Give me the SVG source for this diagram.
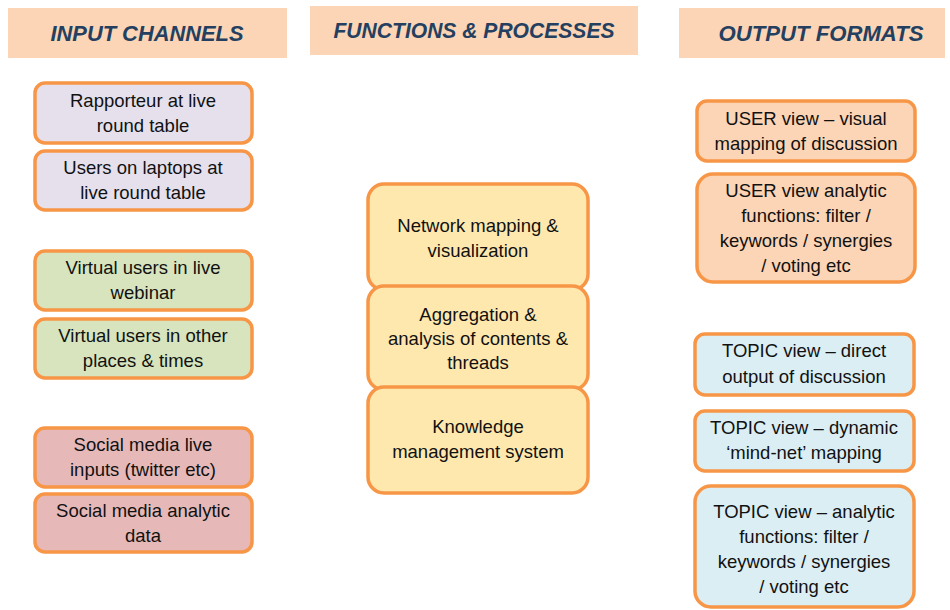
<svg xmlns="http://www.w3.org/2000/svg" width="950" height="610" viewBox="0 0 950 610">
  <style>
    .hdr { fill: #FBD5B5; }
    .hdr-t { font-family: "Liberation Sans", Arial, sans-serif; font-size: 22px; font-weight: bold; font-style: italic; fill: #243F60; text-anchor: middle; }
    .box { stroke: #F79646; stroke-width: 3.5; }
    .t { font-family: "Liberation Sans", Arial, sans-serif; font-size: 18.5px; fill: #111; text-anchor: middle; }
    .lav { fill: #E5E0EC; }
    .grn { fill: #D7E4BD; }
    .red { fill: #E6B9B8; }
    .yel { fill: #FFE8AE; }
    .pch { fill: #FBD5B5; }
    .blu { fill: #DBEEF4; }
  </style>

  <!-- column headers -->
  <g id="hdr-input">
    <rect class="hdr" x="8" y="8" width="279" height="50"/>
    <text class="hdr-t" x="147" y="41" textLength="193" lengthAdjust="spacingAndGlyphs">INPUT CHANNELS</text>
  </g>
  <g id="hdr-functions">
    <rect class="hdr" x="310" y="6" width="328" height="49"/>
    <text class="hdr-t" x="474" y="38" textLength="281" lengthAdjust="spacingAndGlyphs">FUNCTIONS &amp; PROCESSES</text>
  </g>
  <g id="hdr-output">
    <rect class="hdr" x="679" y="8" width="266" height="50"/>
    <text class="hdr-t" x="821" y="41" textLength="205" lengthAdjust="spacingAndGlyphs">OUTPUT FORMATS</text>
  </g>

  <!-- input channels -->
  <g id="in-rapporteur">
    <rect class="box lav" x="35" y="83" width="217" height="60" rx="10"/>
    <text class="t" x="143" y="107">Rapporteur at live</text>
    <text class="t" x="143" y="132">round table</text>
  </g>
  <g id="in-laptops">
    <rect class="box lav" x="35" y="151" width="217" height="59" rx="10"/>
    <text class="t" x="143" y="174">Users on laptops at</text>
    <text class="t" x="143" y="199">live round table</text>
  </g>
  <g id="in-webinar">
    <rect class="box grn" x="35" y="251" width="217" height="59" rx="10"/>
    <text class="t" x="143" y="274">Virtual users in live</text>
    <text class="t" x="143" y="299">webinar</text>
  </g>
  <g id="in-other">
    <rect class="box grn" x="35" y="319" width="217" height="59" rx="10"/>
    <text class="t" x="143" y="342">Virtual users in other</text>
    <text class="t" x="143" y="367">places &amp; times</text>
  </g>
  <g id="in-social-live">
    <rect class="box red" x="35" y="428" width="217" height="59" rx="10"/>
    <text class="t" x="143" y="451">Social media live</text>
    <text class="t" x="143" y="476">inputs (twitter etc)</text>
  </g>
  <g id="in-social-data">
    <rect class="box red" x="35" y="494" width="217" height="58" rx="10"/>
    <text class="t" x="143" y="517">Social media analytic</text>
    <text class="t" x="143" y="542">data</text>
  </g>

  <!-- functions & processes -->
  <g id="fn-network">
    <rect class="box yel" x="368" y="184" width="220" height="106" rx="16"/>
    <text class="t" x="478" y="232">Network mapping &amp;</text>
    <text class="t" x="478" y="257">visualization</text>
  </g>
  <g id="fn-aggregation">
    <rect class="box yel" x="368" y="286" width="220" height="104" rx="16"/>
    <text class="t" x="478" y="321">Aggregation &amp;</text>
    <text class="t" x="478" y="345">analysis of contents &amp;</text>
    <text class="t" x="478" y="369">threads</text>
  </g>
  <g id="fn-knowledge">
    <rect class="box yel" x="368" y="387" width="220" height="106" rx="16"/>
    <text class="t" x="478" y="433">Knowledge</text>
    <text class="t" x="478" y="458">management system</text>
  </g>

  <!-- output formats -->
  <g id="out-user-visual">
    <rect class="box pch" x="697" y="101" width="218" height="60" rx="10"/>
    <text class="t" x="806" y="125">USER view – visual</text>
    <text class="t" x="806" y="150">mapping of discussion</text>
  </g>
  <g id="out-user-analytic">
    <rect class="box pch" x="697" y="174" width="218" height="108" rx="16"/>
    <text class="t" x="806" y="197">USER view analytic</text>
    <text class="t" x="806" y="222">functions: filter /</text>
    <text class="t" x="806" y="247">keywords / synergies</text>
    <text class="t" x="806" y="272">/ voting etc</text>
  </g>
  <g id="out-topic-direct">
    <rect class="box blu" x="695" y="334" width="219" height="61" rx="10"/>
    <text class="t" x="804" y="357">TOPIC view – direct</text>
    <text class="t" x="804" y="383">output of discussion</text>
  </g>
  <g id="out-topic-mindnet">
    <rect class="box blu" x="695" y="411" width="219" height="60" rx="10"/>
    <text class="t" x="804" y="434">TOPIC view – dynamic</text>
    <text class="t" x="804" y="459">‘mind-net’ mapping</text>
  </g>
  <g id="out-topic-analytic">
    <rect class="box blu" x="695" y="486" width="219" height="121" rx="16"/>
    <text class="t" x="804" y="518">TOPIC view – analytic</text>
    <text class="t" x="804" y="543">functions: filter /</text>
    <text class="t" x="804" y="568">keywords / synergies</text>
    <text class="t" x="804" y="593">/ voting etc</text>
  </g>

  <!-- no connectors are drawn between the columns -->
  <g id="connectors"/>
</svg>
